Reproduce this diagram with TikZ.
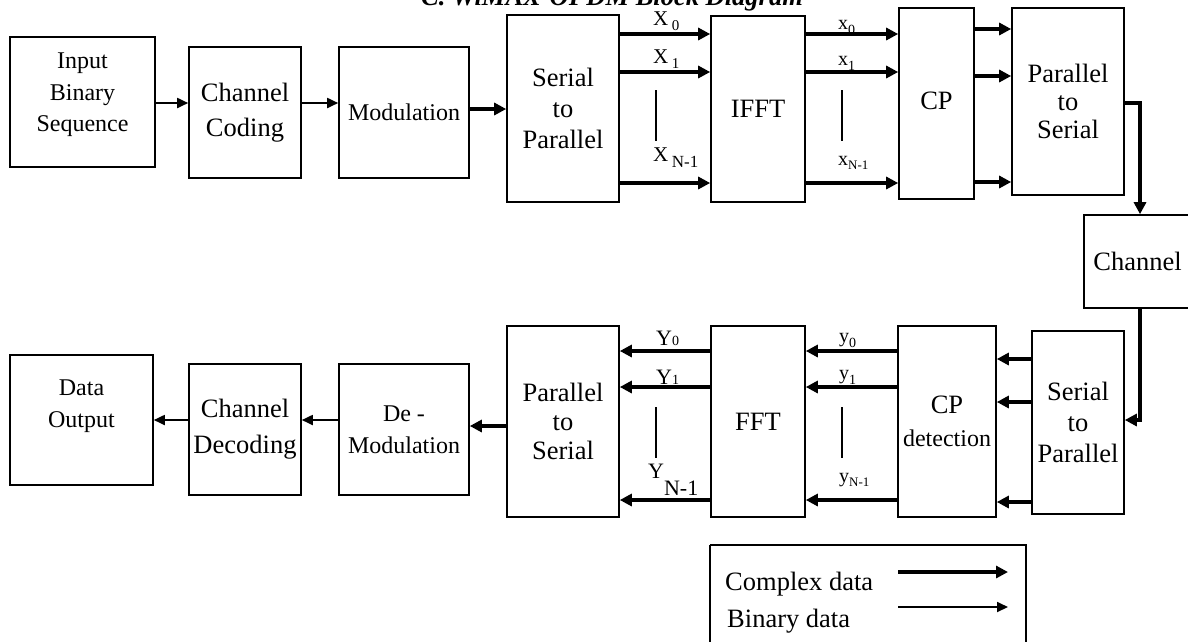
\documentclass[tikz,border=0pt]{standalone}
\usepackage{fontspec}
\setmainfont{Liberation Serif}
\usetikzlibrary{arrows.meta,calc}
\newcommand\blkbox[7][]{\node[blk,#1,minimum width={(#4-#2)*1pt},minimum height={(#5-#3)*1pt}] (#6) at ({(#2+#4)/2},{(#3+#5)/2}) {#7};}
\begin{document}
\begin{tikzpicture}[x=1pt,y=-1pt,
  blk/.style={draw,line width=1.6pt,inner sep=0pt,align=center,font=\fontsize{26.5}{31}\selectfont},
  smallf/.style={font=\fontsize{24}{31.5}\selectfont},
  txt/.style={inner sep=0pt,align=center},
  lbl/.style={inner sep=0pt,anchor=base west},
  thk/.style={line width=3.5pt,-{Triangle[length=12pt,width=12pt]}},
  thn/.style={line width=1.8pt,-{Triangle[length=11pt,width=10pt]}},
  bar/.style={line width=1.6pt}]
\useasboundingbox (0,0) rectangle (1188,641);

% title (cut at top, as in the source)
\node[txt,anchor=base,font=\fontsize{26.5}{30}\selectfont\bfseries\itshape] (title) at (612,5) {C. WiMAX-OFDM Block Diagram};

% ---------- top row ----------
\blkbox{10}{37}{155}{167}{inp}{}
\node[txt,smallf] (inptxt) at (82.5,95) {Input\\Binary\\Sequence};
\blkbox[font=\fontsize{26.5}{35}\selectfont]{189}{47}{301}{178}{cc}{Channel\\Coding}
\blkbox[smallf]{339}{47}{469}{178}{mod}{Modulation}
\blkbox{507}{15}{619}{202}{sp}{Serial\\to\\Parallel}
\blkbox{711}{16}{805}{202}{ifft}{IFFT}
\blkbox{899}{8}{974}{199}{cp}{\raisebox{6pt}{CP}}
\blkbox[font=\fontsize{26.5}{28}\selectfont]{1012}{8}{1124}{195}{ps}{Parallel\\to\\Serial}
\blkbox{1084}{215}{1191}{308}{ch}{\raisebox{-2pt}{Channel}}

% ---------- bottom row ----------
\blkbox{1032}{331}{1124}{514}{sp2}{Serial\\to\\Parallel}
\blkbox{898}{326}{996}{517}{cpd}{CP\\[2pt]{\fontsize{24}{28}\selectfont detection}}
\blkbox{711}{326}{805}{517}{fft}{FFT}
\blkbox[font=\fontsize{26.5}{29}\selectfont]{507}{326}{619}{517}{ps2}{Parallel\\to\\Serial}
\blkbox[smallf]{339}{364}{469}{495}{dm}{De -\\Modulation}
\blkbox[font=\fontsize{26.5}{36}\selectfont]{189}{364}{301}{495}{cd}{Channel\\Decoding}
\blkbox{10}{355}{153}{485}{out}{}
\node[txt,font=\fontsize{24}{32}\selectfont] (outtxt) at (81.5,406) {Data\\Output};

% row coordinates
\coordinate (y103) at (0,103);
\coordinate (y109) at (0,109);
\coordinate (t1) at (0,34);
\coordinate (t2) at (0,72);
\coordinate (t3) at (0,183);
\coordinate (c1) at (0,29);
\coordinate (c2) at (0,76);
\coordinate (c3) at (0,182);
\coordinate (xc) at (1140,0);
\coordinate (y420) at (0,420);
\coordinate (y426) at (0,426);
\coordinate (s1) at (0,359);
\coordinate (s2) at (0,402);
\coordinate (s3) at (0,502);
\coordinate (f1) at (0,351);
\coordinate (f2) at (0,387);
\coordinate (f3) at (0,500);

% ---------- top connectors ----------
\draw[thn] (inp.east |- y103) -- (cc.west |- y103);
\draw[thn] (cc.east |- y103) -- (mod.west |- y103);
\draw[thk] (mod.east |- y109) -- (sp.west |- y109);
\foreach \r in {t1,t2,t3}{
  \draw[thk] (sp.east |- \r) -- (ifft.west |- \r);
  \draw[thk] (ifft.east |- \r) -- (cp.west |- \r);
}
\foreach \r in {c1,c2,c3}{
  \draw[thk] (cp.east |- \r) -- (ps.west |- \r);
}
\draw[thk] (ps.east |- y103) -| (ch.north -| xc);
\draw[thk] (ch.south -| xc) |- (sp2.east |- y420);

% ---------- bottom connectors ----------
\foreach \r in {s1,s2,s3}{
  \draw[thk] (sp2.west |- \r) -- (cpd.east |- \r);
}
\foreach \r in {f1,f2,f3}{
  \draw[thk] (cpd.west |- \r) -- (fft.east |- \r);
  \draw[thk] (fft.west |- \r) -- (ps2.east |- \r);
}
\draw[thk] (ps2.west |- y426) -- (dm.east |- y426);
\draw[thn] (dm.west |- y420) -- (cd.east |- y420);
\draw[thn] (cd.west |- y420) -- (out.east |- y420);

% ---------- vertical ellipsis bars ----------
\draw[bar] (656,90) -- (656,141);
\draw[bar] (842,90) -- (842,141);
\draw[bar] (656,407) -- (656,458);
\draw[bar] (842,407) -- (842,458);

% ---------- signal labels ----------
\node[lbl,font=\fontsize{21}{21}\selectfont] (lX0) at (653,25) {X\,\raisebox{-5pt}{\fontsize{15}{15}\selectfont 0}};
\node[lbl,font=\fontsize{21}{21}\selectfont] (lX1) at (653,63) {X\,\raisebox{-5pt}{\fontsize{15}{15}\selectfont 1}};
\node[lbl,font=\fontsize{21}{21}\selectfont] (lXN) at (653,161) {X\,\raisebox{-6pt}{\fontsize{17}{17}\selectfont N-1}};
\node[lbl,font=\fontsize{20}{20}\selectfont] (lx0) at (838,29) {x\raisebox{-5pt}{\fontsize{14}{14}\selectfont 0}};
\node[lbl,font=\fontsize{20}{20}\selectfont] (lx1) at (838,65) {x\raisebox{-5pt}{\fontsize{14}{14}\selectfont 1}};
\node[lbl,font=\fontsize{20}{20}\selectfont] (lxN) at (838,165) {x\raisebox{-4pt}{\fontsize{13}{13}\selectfont N-1}};

\node[lbl,font=\fontsize{22}{22}\selectfont] (lY0) at (656,345) {Y{\fontsize{14}{14}\selectfont 0}};
\node[lbl,font=\fontsize{22}{22}\selectfont] (lY1) at (656,384) {Y{\fontsize{14}{14}\selectfont 1}};
\node[lbl,font=\fontsize{22}{22}\selectfont] (lYN) at (648,478) {Y\raisebox{-17pt}{N-1}};
\node[lbl,font=\fontsize{20}{20}\selectfont] (ly0) at (839,342) {y\raisebox{-5pt}{\fontsize{14}{14}\selectfont 0}};
\node[lbl,font=\fontsize{20}{20}\selectfont] (ly1) at (839,379) {y\raisebox{-5pt}{\fontsize{14}{14}\selectfont 1}};
\node[lbl,font=\fontsize{20}{20}\selectfont] (lyN) at (839,482) {y\raisebox{-4pt}{\fontsize{13}{13}\selectfont N-1}};

% ---------- legend ----------
\draw[line width=1.6pt] (710,545) -- (1026,545) -- (1026,645) (710,545) -- (710,645);
\node[lbl,font=\fontsize{26.5}{30}\selectfont] (lgc) at (725,590) {Complex data};
\node[lbl,font=\fontsize{26.5}{30}\selectfont] (lgb) at (727,627) {Binary data};
\coordinate (lga1) at (898,572);
\coordinate (lga2) at (1008,572);
\coordinate (lgb1) at (898,607);
\coordinate (lgb2) at (1008,607);
\draw[thk] (lga1) -- (lga2);
\draw[thn] (lgb1) -- (lgb2);
\end{tikzpicture}
\end{document}
